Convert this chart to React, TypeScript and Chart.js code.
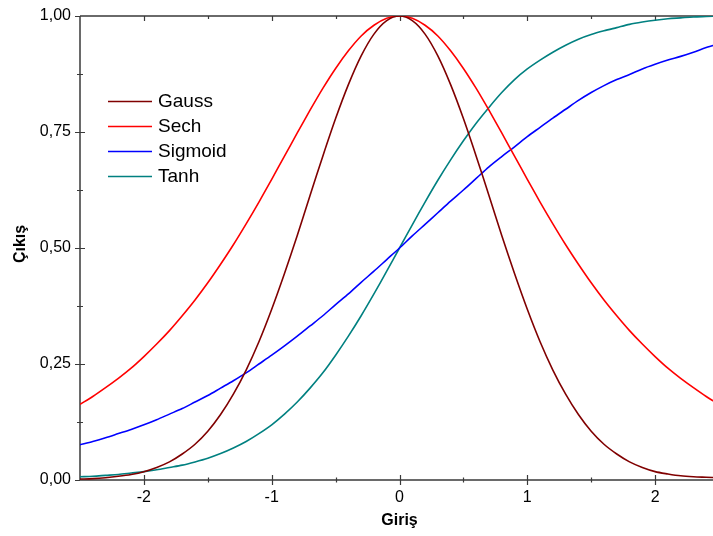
import { useEffect, useRef } from 'react';
import { Chart, registerables } from 'chart.js';

Chart.register(...registerables);

// ---- data ----
const xValues = [
  -2.5, -2.4, -2.3, -2.2, -2.1, -2.0, -1.9, -1.8, -1.7, -1.6, -1.5, -1.4, -1.3, -1.2, -1.1,
  -1.0, -0.9, -0.8, -0.7, -0.6, -0.5, -0.4, -0.3, -0.2, -0.1, 0.0, 0.1, 0.2, 0.3, 0.4, 0.5,
  0.6, 0.7, 0.8, 0.9, 1.0, 1.1, 1.2, 1.3, 1.4, 1.5, 1.6, 1.7, 1.8, 1.9, 2.0, 2.1, 2.2, 2.3,
  2.4, 2.5,
];

const gauss = [
  0.002, 0.003, 0.005, 0.008, 0.012, 0.018, 0.027, 0.039, 0.056, 0.077, 0.105, 0.141, 0.185,
  0.237, 0.298, 0.368, 0.445, 0.527, 0.613, 0.698, 0.779, 0.852, 0.914, 0.961, 0.99, 1.0,
  0.99, 0.961, 0.914, 0.852, 0.779, 0.698, 0.613, 0.527, 0.445, 0.368, 0.298, 0.237, 0.185,
  0.141, 0.105, 0.077, 0.056, 0.039, 0.027, 0.018, 0.013, 0.009, 0.007, 0.006, 0.005,
];

const sech = [
  0.163, 0.18, 0.199, 0.219, 0.241, 0.266, 0.293, 0.322, 0.354, 0.388, 0.425, 0.465, 0.507,
  0.552, 0.599, 0.648, 0.698, 0.748, 0.797, 0.844, 0.887, 0.925, 0.957, 0.98, 0.995, 1.0,
  0.995, 0.98, 0.957, 0.925, 0.887, 0.844, 0.797, 0.748, 0.698, 0.648, 0.599, 0.552, 0.507,
  0.465, 0.425, 0.388, 0.354, 0.322, 0.293, 0.266, 0.241, 0.219, 0.199, 0.18, 0.163,
];

const sigmoid = [
  0.076, 0.083, 0.091, 0.1, 0.109, 0.119, 0.13, 0.142, 0.154, 0.168, 0.182, 0.198, 0.214,
  0.231, 0.25, 0.269, 0.289, 0.31, 0.332, 0.354, 0.378, 0.401, 0.426, 0.45, 0.475, 0.5,
  0.526, 0.551, 0.576, 0.601, 0.625, 0.65, 0.675, 0.697, 0.718, 0.74, 0.76, 0.78, 0.799,
  0.818, 0.835, 0.85, 0.863, 0.874, 0.886, 0.896, 0.905, 0.913, 0.922, 0.932, 0.94,
];

const tanh = [
  0.007, 0.008, 0.01, 0.012, 0.015, 0.018, 0.022, 0.027, 0.032, 0.039, 0.047, 0.057, 0.069,
  0.083, 0.1, 0.119, 0.142, 0.168, 0.198, 0.231, 0.269, 0.31, 0.354, 0.401, 0.45, 0.5,
  0.55, 0.599, 0.646, 0.69, 0.731, 0.769, 0.803, 0.835, 0.863, 0.886, 0.905, 0.922, 0.937,
  0.95, 0.96, 0.968, 0.975, 0.982, 0.987, 0.991, 0.994, 0.996, 0.998, 0.999, 1.0,
];

const seriesNames = ['Gauss', 'Sech', 'Sigmoid', 'Tanh'];
const seriesColors = ['#800000', '#ff0000', '#0000ff', '#008080'];

const xMajorTicks = [-2, -1, 0, 1, 2];
const xTickLabels = ['-2', '-1', '0', '1', '2'];
const xMinorTicks = [-1.5, -0.5, 0.5, 1.5];
const yMajorTicks = [0, 0.25, 0.5, 0.75, 1];
const yTickLabels = ['0,00', '0,25', '0,50', '0,75', '1,00'];
const yMinorTicks = [0.125, 0.375, 0.625, 0.875];

const xTitle = 'Giriş';
const yTitle = 'Çıkış';

const FONT = "'Liberation Sans', Arial, sans-serif";

const framePlugin = {
  id: 'frame',
  beforeDatasetsDraw(chart: any) {
    const { ctx, chartArea, scales } = chart;
    const { left, right, top, bottom } = chartArea;
    const xs = scales.x;
    const ys = scales.y;
    ctx.save();
    ctx.strokeStyle = '#3a3a3a';
    ctx.lineWidth = 1.5;
    ctx.beginPath();
    ctx.moveTo(left, top);
    ctx.lineTo(right, top);
    ctx.moveTo(left, top);
    ctx.lineTo(left, bottom);
    ctx.lineTo(right, bottom);
    ctx.lineTo(right, top);
    ctx.stroke();

    ctx.lineWidth = 1.2;
    ctx.beginPath();
    for (const v of xMajorTicks) {
      const px = Math.round(xs.getPixelForValue(v)) + 0.5;
      ctx.moveTo(px, bottom - 5);
      ctx.lineTo(px, bottom + 5);
      ctx.moveTo(px, top);
      ctx.lineTo(px, top + 5);
    }
    for (const v of xMinorTicks) {
      const px = Math.round(xs.getPixelForValue(v)) + 0.5;
      ctx.moveTo(px, bottom - 2.5);
      ctx.lineTo(px, bottom + 2.5);
      ctx.moveTo(px, top);
      ctx.lineTo(px, top + 3);
    }
    for (const v of yMajorTicks) {
      const py = Math.round(ys.getPixelForValue(v)) + 0.5;
      ctx.moveTo(left - 5, py);
      ctx.lineTo(v === 1 || v === 0 ? left : left + 5, py);
    }
    for (const v of yMinorTicks) {
      const py = Math.round(ys.getPixelForValue(v)) + 0.5;
      ctx.moveTo(left - 3, py);
      ctx.lineTo(left + 3, py);
    }
    ctx.stroke();

    // y axis title (rotated)
    ctx.fillStyle = '#000';
    ctx.font = `bold 16px ${FONT}`;
    ctx.textAlign = 'center';
    ctx.textBaseline = 'middle';
    ctx.translate(21, 244);
    ctx.rotate(-Math.PI / 2);
    ctx.fillText(yTitle, 0, 0);
    ctx.restore();
  },
};

const legendPlugin = {
  id: 'customLegend',
  afterDraw(chart: any) {
    const { ctx } = chart;
    ctx.save();
    ctx.font = `19px ${FONT}`;
    ctx.textBaseline = 'middle';
    ctx.textAlign = 'left';
    chart.data.datasets.forEach((ds: any, i: number) => {
      const y = 101 + i * 25;
      ctx.strokeStyle = ds.borderColor;
      ctx.lineWidth = 1.5;
      ctx.beginPath();
      ctx.moveTo(108, y + 0.5);
      ctx.lineTo(152, y + 0.5);
      ctx.stroke();
      ctx.fillStyle = '#000';
      ctx.fillText(ds.label, 158, y + 1);
    });
    ctx.restore();
  },
};

export default function App() {
  const canvasRef = useRef<HTMLCanvasElement | null>(null);

  useEffect(() => {
    if (!canvasRef.current) return;
    const series = [gauss, sech, sigmoid, tanh];
    const chart = new Chart(canvasRef.current, {
      type: 'line',
      data: {
        datasets: series.map((vals, i) => ({
          label: seriesNames[i],
          data: xValues.map((x, j) => ({ x, y: vals[j] })),
          borderColor: seriesColors[i],
          backgroundColor: seriesColors[i],
          borderWidth: 1.6,
          pointRadius: 0,
          tension: 0.3,
          fill: false,
        })),
      },
      options: {
        animation: false,
        responsive: false,
        devicePixelRatio: 1,
        layout: { padding: { top: 16, right: 6, left: 0, bottom: 0 } },
        plugins: {
          legend: { display: false },
          tooltip: { enabled: false },
        },
        scales: {
          x: {
            type: 'linear',
            min: -2.5,
            max: 2.5,
            afterBuildTicks: (s: any) => {
              s.ticks = xMajorTicks.map((v) => ({ value: v }));
            },
            afterFit: (s: any) => {
              s.height = 56;
              s.paddingLeft = 0;
              s.paddingRight = 0;
            },
            grid: { display: false, drawTicks: false },
            border: { display: false },
            ticks: {
              autoSkip: false,
              maxRotation: 0,
              padding: 8,
              color: '#000',
              font: { family: FONT, size: 16 },
              callback: (_v: any, i: number) => xTickLabels[i],
            },
            title: {
              display: true,
              text: xTitle,
              color: '#000',
              font: { family: FONT, size: 16, weight: 'bold' },
              padding: { top: 0, bottom: 6 },
            },
          },
          y: {
            type: 'linear',
            min: 0,
            max: 1,
            afterBuildTicks: (s: any) => {
              s.ticks = yMajorTicks.map((v) => ({ value: v }));
            },
            afterFit: (s: any) => {
              s.width = 80;
              s.paddingTop = 0;
              s.paddingBottom = 0;
            },
            grid: { display: false, drawTicks: false },
            border: { display: false },
            ticks: {
              autoSkip: false,
              padding: 9,
              color: '#000',
              font: { family: FONT, size: 16 },
              callback: (_v: any, i: number) => yTickLabels[i],
            },
            title: { display: false },
          },
        },
      },
      plugins: [framePlugin, legendPlugin],
    });
    return () => chart.destroy();
  }, []);

  return (
    <div
      style={{
        position: 'fixed',
        left: 0,
        top: 0,
        width: 713,
        height: 536,
        overflow: 'hidden',
        background: '#fff',
      }}
    >
      <canvas ref={canvasRef} width={725} height={536} style={{ display: 'block' }} />
    </div>
  );
}
